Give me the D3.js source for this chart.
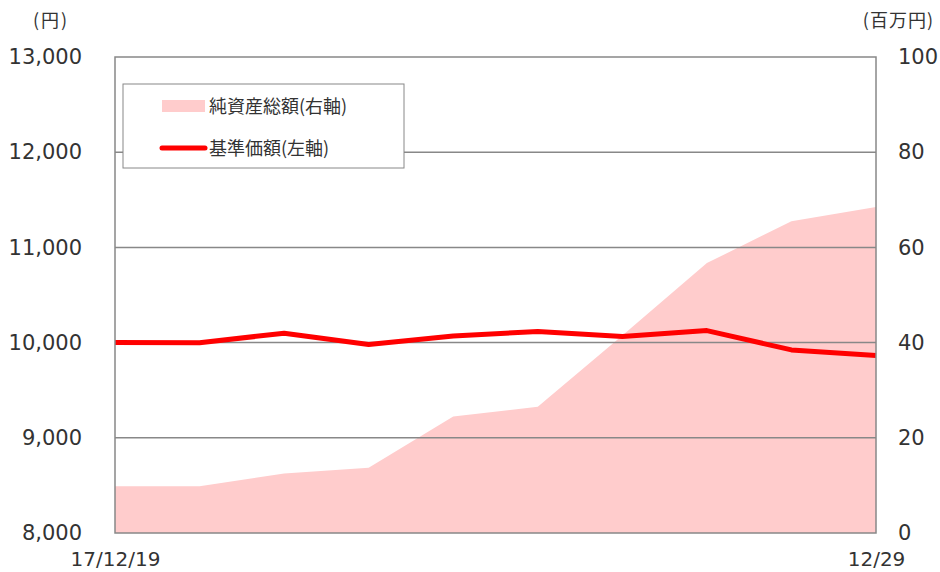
<!DOCTYPE html>
<html>
<head>
<meta charset="utf-8">
<script src="https://cdn.jsdelivr.net/npm/d3@7"></script>
<style>
  body { margin: 0; background: #fff; }
  text { font-family: "DejaVu Sans", "Noto Sans CJK JP", sans-serif; fill: #333; }
  .jp { font-family: "Noto Sans CJK JP", sans-serif; }
</style>
</head>
<body>
<div id="chart"></div>
<script>
// dates (only first and last labelled)
var dates = ["17/12/19", "12/20", "12/21", "12/22", "12/23", "12/25", "12/26", "12/27", "12/28", "12/29"];
var dateLabels = ["17/12/19", "12/29"];
// 基準価額 (円, left axis)
var navValues = [10000, 9998, 10099, 9979, 10070, 10116, 10063, 10126, 9923, 9864];
// 純資産総額 (百万円, right axis)
var assetValues = [9.8, 9.8, 12.5, 13.7, 24.5, 26.5, 41.5, 56.7, 65.5, 68.5];
var leftTicks = [8000, 9000, 10000, 11000, 12000, 13000];
var rightTicks = [0, 20, 40, 60, 80, 100];

var W = 940, H = 572;
var margin = { top: 57, right: 64, bottom: 39, left: 115 },
  width = W - margin.left - margin.right,
  height = H - margin.top - margin.bottom;

var svg = d3.select("#chart")
  .append("svg")
  .attr("width", W)
  .attr("height", H);

var g = svg.append("g")
  .attr("transform", "translate(" + margin.left + "," + margin.top + ")");

var x = d3.scalePoint()
  .domain(dates)
  .range([0, width]);

var yL = d3.scaleLinear()
  .domain([8000, 13000])
  .range([height, 0]);

var yR = d3.scaleLinear()
  .domain([0, 100])
  .range([height, 0]);

// area for net assets
var area = d3.area()
  .x(function (d, i) { return x(dates[i]); })
  .y0(height)
  .y1(function (d) { return yR(d); });

g.append("path")
  .datum(assetValues)
  .attr("fill", "#FFCCCC")
  .attr("d", area);

// gridlines
g.selectAll(".grid")
  .data(leftTicks.slice(1, -1))
  .enter()
  .append("line")
  .attr("x1", 0)
  .attr("x2", width)
  .attr("y1", function (d) { return yL(d); })
  .attr("y2", function (d) { return yL(d); })
  .attr("stroke", "#888")
  .attr("stroke-width", 1.5);

// NAV line
var line = d3.line()
  .x(function (d, i) { return x(dates[i]); })
  .y(function (d) { return yL(d); });

g.append("path")
  .datum(navValues)
  .attr("fill", "none")
  .attr("stroke", "#FF0000")
  .attr("stroke-width", 5)
  .attr("stroke-linejoin", "round")
  .attr("d", line);

// frame
g.append("rect")
  .attr("width", width)
  .attr("height", height)
  .attr("fill", "none")
  .attr("stroke", "#888")
  .attr("stroke-width", 1.5);

// left axis
var leftAxis = g.append("g")
  .call(d3.axisLeft(yL).tickValues(leftTicks).tickSize(0).tickPadding(33)
    .tickFormat(d3.format(",")));
leftAxis.select(".domain").remove();
leftAxis.selectAll("text")
  .style("font-size", "21px")
  .attr("fill", "#333");

// right axis
var rightAxis = g.append("g")
  .attr("transform", "translate(" + width + ",0)")
  .call(d3.axisRight(yR).tickValues(rightTicks).tickSize(0).tickPadding(22));
rightAxis.select(".domain").remove();
rightAxis.selectAll("text")
  .style("font-size", "21px")
  .attr("fill", "#333");

// bottom axis
var bottomAxis = g.append("g")
  .attr("transform", "translate(0," + height + ")")
  .call(d3.axisBottom(x).tickValues(dateLabels).tickSize(0).tickPadding(19));
bottomAxis.select(".domain").remove();
bottomAxis.selectAll("text")
  .style("font-size", "20px")
  .attr("fill", "#333");

// unit labels
svg.append("text")
  .attr("class", "jp")
  .attr("x", 51)
  .attr("y", 27)
  .attr("text-anchor", "middle")
  .attr("letter-spacing", 2)
  .style("font-size", "18px")
  .text("(円)");

svg.append("text")
  .attr("class", "jp")
  .attr("x", 934)
  .attr("y", 27)
  .attr("text-anchor", "end")
  .attr("letter-spacing", 1)
  .style("font-size", "18px")
  .text("(百万円)");

// legend
var legend = svg.append("g");
legend.append("rect")
  .attr("x", 123)
  .attr("y", 84)
  .attr("width", 281)
  .attr("height", 84)
  .attr("fill", "#fff")
  .attr("stroke", "#888")
  .attr("stroke-width", 1);

legend.append("rect")
  .attr("x", 162)
  .attr("y", 100)
  .attr("width", 43)
  .attr("height", 12)
  .attr("fill", "#FFCCCC");

legend.append("line")
  .attr("x1", 162)
  .attr("x2", 205)
  .attr("y1", 148)
  .attr("y2", 148)
  .attr("stroke", "#FF0000")
  .attr("stroke-width", 5)
  .attr("stroke-linecap", "round");

legend.append("text")
  .attr("class", "jp")
  .attr("x", 209)
  .attr("y", 113)
  .style("font-size", "18px")
  .text("純資産総額(右軸)");

legend.append("text")
  .attr("class", "jp")
  .attr("x", 209)
  .attr("y", 155)
  .style("font-size", "18px")
  .text("基準価額(左軸)");
</script>
</body>
</html>
